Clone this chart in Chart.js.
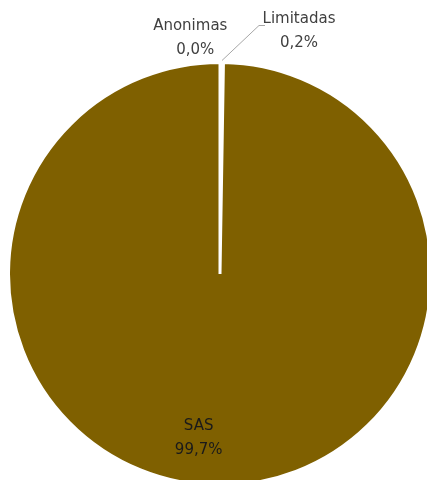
<!DOCTYPE html>
<html lang="es">
<head>
    <meta charset="UTF-8">
    <title>Tipo de sociedad</title>
    <script src="https://cdn.jsdelivr.net/npm/chart.js"></script>
    <style>
        html, body { margin: 0; padding: 0; background: #ffffff; overflow: hidden; }
        #wrap { position: absolute; left: 0; top: 0; width: 433px; height: 487px; }
    </style>
</head>
<body>
    <div id="wrap"><canvas id="pieChart"></canvas></div>

    <script>
        // Datos
        var categorias = ['Anonimas', 'Limitadas', 'SAS'];
        var porcentajes = [0.04, 0.22, 99.74];
        var colores = ['#ffffff', '#ffffff', '#7f6000'];

        // Posicion de cada etiqueta respecto al borde de su porcion
        var etiquetas = [
            { dentro: false, dx: -30, dy: -24, color: '#404040' },
            { dentro: false, dx: 77, dy: -31, color: '#404040', guia: true },
            { dentro: true, frac: 0.775, dx: -20, dy: 0, color: '#1a1a1a' }
        ];

        function formato(v) {
            return v.toFixed(1).replace('.', ',') + '%';
        }

        var pluginEtiquetas = {
            id: 'etiquetas',
            afterDatasetsDraw: function (chart) {
                var ctx = chart.ctx;
                var meta = chart.getDatasetMeta(0);
                ctx.save();
                ctx.font = '15px "DejaVu Sans", sans-serif';
                ctx.textAlign = 'center';
                ctx.textBaseline = 'middle';
                meta.data.forEach(function (arc, i) {
                    var p = arc.getProps(['x', 'y', 'startAngle', 'endAngle', 'outerRadius'], true);
                    var medio = (p.startAngle + p.endAngle) / 2;
                    var cfg = etiquetas[i];
                    var r = cfg.dentro ? p.outerRadius * cfg.frac : p.outerRadius;
                    var ax = p.x + Math.cos(medio) * r;
                    var ay = p.y + Math.sin(medio) * r;
                    var cx = ax + cfg.dx;
                    var cy = ay + cfg.dy;

                    if (cfg.guia) {
                        ctx.strokeStyle = '#a6a6a6';
                        ctx.lineWidth = 1;
                        ctx.beginPath();
                        ctx.moveTo(ax, ay - 2);
                        ctx.lineTo(cx - 40, cy - 6);
                        ctx.lineTo(cx - 34, cy - 6);
                        ctx.stroke();
                    }

                    ctx.fillStyle = cfg.color;
                    ctx.fillText(categorias[i], cx, cy - 12);
                    ctx.fillText(formato(porcentajes[i]), cx + (i === 0 ? 5 : 0), cy + 12);
                });
                ctx.restore();
            }
        };

        var ctx = document.getElementById('pieChart').getContext('2d');
        var grafico = new Chart(ctx, {
            type: 'pie',
            data: {
                labels: categorias,
                datasets: [{
                    data: porcentajes,
                    backgroundColor: colores,
                    borderColor: '#ffffff',
                    borderWidth: 3
                }]
            },
            options: {
                responsive: true,
                maintainAspectRatio: false,
                animation: false,
                layout: { padding: { left: 7, top: 61, right: 0, bottom: 0 } },
                plugins: {
                    legend: { display: false },
                    tooltip: { enabled: false }
                }
            },
            plugins: [pluginEtiquetas]
        });
    </script>
</body>
</html>
